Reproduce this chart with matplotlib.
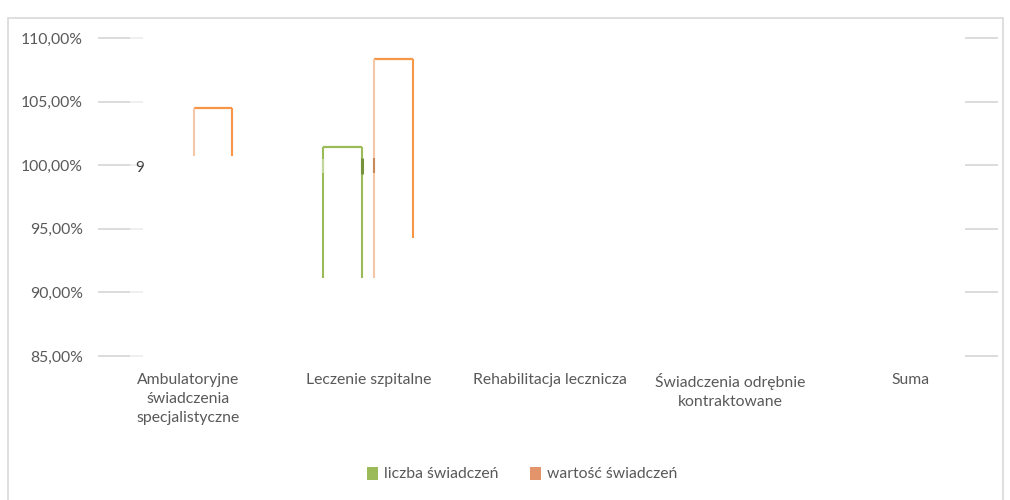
import numpy as np
import matplotlib
matplotlib.use("Agg")
import matplotlib.pyplot as plt
from matplotlib.patches import Patch, Rectangle

plt.rcParams['font.family'] = ['Lato', 'DejaVu Sans']

categories = ["Ambulatoryjne\nświadczenia\nspecjalistyczne", "Leczenie szpitalne",
              "Rehabilitacja lecznicza", "Świadczenia odrębnie\nkontraktowane", "Suma"]
series_names = ["liczba świadczeń", "wartość świadczeń"]
# visible tops of the (broken) bars, in %
liczba_top = [np.nan, 101.4, np.nan, np.nan, np.nan]
wartosc_top = [104.5, 108.35, np.nan, np.nan, np.nan]
# visible lower ends of the left / right bar sides, in %
liczba_left_low = [np.nan, 91.1, np.nan, np.nan, np.nan]
liczba_right_low = [np.nan, 91.1, np.nan, np.nan, np.nan]
wartosc_left_low = [100.7, 91.1, np.nan, np.nan, np.nan]
wartosc_right_low = [100.7, 94.3, np.nan, np.nan, np.nan]
yticks = [85, 90, 95, 100, 105, 110]

green = "#9BBB59"
orange = "#F79646"
orange_light = "#F4C7A6"
text_col = "#595959"

fig = plt.figure(figsize=(10.1, 5.0), dpi=100)
ax = fig.add_axes([98/1010, 144/500, 903/1010, 318/500])
ax.set_xlim(-0.5, len(categories) - 0.5)
ax.set_ylim(85, 110)

# chart border
fig.patches.append(Rectangle((8/1010, -0.01), (1003-8)/1010, 487/500, transform=fig.transFigure,
                             fill=False, edgecolor="#D9D9D9", linewidth=1.2))

# faded gridline stubs
for t in yticks:
    ax.plot([0.0, 0.035], [t, t], transform=ax.get_yaxis_transform(), color="#D9D9D9", lw=1.3,
            solid_capstyle="butt", clip_on=False)
    ax.plot([0.035, 0.05], [t, t], transform=ax.get_yaxis_transform(), color="#EEEEEE", lw=1.3,
            solid_capstyle="butt", clip_on=False)
    ax.plot([0.96, 0.997], [t, t], transform=ax.get_yaxis_transform(), color="#D9D9D9", lw=1.3,
            solid_capstyle="butt", clip_on=False)

w = 0.215
offs = [-0.147, 0.137]
x = np.arange(len(categories))
for s, (tops, lows_l, lows_r, col, col_l) in enumerate([
        (liczba_top, liczba_left_low, liczba_right_low, green, green),
        (wartosc_top, wartosc_left_low, wartosc_right_low, orange, orange_light)]):
    for i in range(len(categories)):
        if np.isnan(tops[i]):
            continue
        xl = x[i] + offs[s] - w / 2
        xr = x[i] + offs[s] + w / 2
        ax.hlines(tops[i], xl, xr, color=col, lw=1.6)
        ax.vlines(xl, lows_l[i], tops[i], color=col_l, lw=1.5)
        ax.vlines(xr, lows_r[i], tops[i], color=col, lw=1.5)

# broken data-label fragments
ax.text(x[0] - 0.27, 99.75, "9", color="#404040", fontsize=11, ha="center", va="center")
ax.vlines(x[1] + offs[0] + w / 2, 99.3, 100.6, color="#76923C", lw=2.2)
ax.vlines(x[1] + offs[0] - w / 2, 99.4, 100.5, color="#C3D69B", lw=1.5)
ax.vlines(x[1] + offs[1] - w / 2, 99.4, 100.6, color="#C98A5A", lw=1.5)

ax.set_yticks(yticks)
ax.set_yticklabels([f"{t:.2f}".replace(".", ",") + "%" for t in yticks])
ax.set_xticks(x)
ax.set_xticklabels(categories, linespacing=1.45)
ax.tick_params(axis="y", length=0, pad=11, labelsize=11.3, labelcolor=text_col)
ax.tick_params(axis="x", length=0, pad=12, labelsize=11.3, labelcolor=text_col)
for sp in ax.spines.values():
    sp.set_visible(False)

handles = [Patch(facecolor="#9BBB59", edgecolor="none"), Patch(facecolor="#E3946A", edgecolor="none")]
fig.legend(handles, series_names, loc="center", bbox_to_anchor=(522/1010, 1 - 474/500), ncol=2,
           frameon=False, fontsize=11.3, labelcolor=text_col, handlelength=0.7, handleheight=0.9,
           handletextpad=0.4, columnspacing=2.0)

fig.savefig("out.png", dpi=100, facecolor="white")
